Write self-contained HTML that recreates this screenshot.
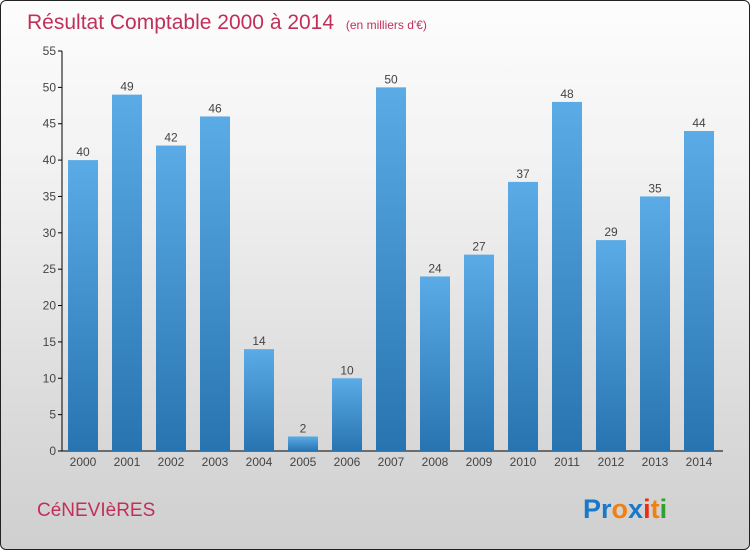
<!DOCTYPE html>
<html><head><meta charset="utf-8"><style>
html,body{margin:0;padding:0}
body{width:750px;height:550px;overflow:hidden;font-family:"Liberation Sans","DejaVu Sans",sans-serif}
#frame{position:absolute;left:0;top:0;width:748px;height:548px;border:1px solid #222;border-radius:6px;background:linear-gradient(#fdfdfd,#f2f2f2 30%,#d8d8d8 80%,#cfcfcf);overflow:hidden}
</style></head><body>
<div id="frame">
<svg id="chart" width="750" height="550" style="position:absolute;left:0;top:0">
<defs><linearGradient id="bg" x1="0" y1="0" x2="0" y2="1"><stop offset="0" stop-color="#5aabe6"/><stop offset="1" stop-color="#2874b0"/></linearGradient></defs>
<text x="26" y="28" font-size="21" fill="#c0305a">Résultat Comptable 2000 à 2014 <tspan font-size="12" dx="6">(en milliers d'€)</tspan></text>
<g id="axes"></g><g id="bars"></g>
<text x="36" y="515" font-size="19" fill="#c0305a">CéNEVIèRES</text>
<text x="582" y="517" font-size="27" font-weight="bold"><tspan fill="#1a78c8">Pr</tspan><tspan fill="#f08010">o</tspan><tspan fill="#1a78c8">x</tspan><tspan fill="#e83010">i</tspan><tspan fill="#f08010">t</tspan><tspan fill="#30a030">i</tspan></text>
</svg></div>
<script>
const categories=["2000","2001","2002","2003","2004","2005","2006","2007","2008","2009","2010","2011","2012","2013","2014"];
const values=[40,49,42,46,14,2,10,50,24,27,37,48,29,35,44];
const yTicks=[0,5,10,15,20,25,30,35,40,45,50,55];
const NS="http://www.w3.org/2000/svg";
const y0=450,yTop=50,yMax=55,x0=82,step=44,bw=30;
const yS=v=>y0-(v/yMax)*(y0-yTop);
const xS=i=>x0+i*step;
function mk(t,a,p){const e=document.createElementNS(NS,t);for(const k in a)e.setAttribute(k,a[k]);p.appendChild(e);return e;}
const ax=document.getElementById('axes'),bars=document.getElementById('bars');
const yl=mk('line',{x1:61,y1:yTop,x2:61,y2:y0,stroke:'#000'},ax);


const xl=mk('line',{x1:61,y1:y0,x2:722,y2:y0,stroke:'#000'},ax);


yTicks.forEach(v=>{const y=yS(v);
mk('line',{x1:57,y1:y,x2:61,y2:y,stroke:'#000'},ax);
const t=mk('text',{x:55,y:y+4,'text-anchor':'end','font-size':12,fill:'#444'},ax);t.textContent=v;

});
categories.forEach((c,i)=>{const x=xS(i),v=values[i];
const r=mk('rect',{x:x-bw/2,y:yS(v),width:bw,height:y0-yS(v),fill:'url(#bg)'},bars);


const l=mk('text',{x:x,y:yS(v)-4,'text-anchor':'middle','font-size':12,fill:'#444'},bars);l.textContent=v;


const t=mk('text',{x:x,y:465,'text-anchor':'middle','font-size':12,fill:'#444'},ax);t.textContent=c;

});
</script>
</body></html>
